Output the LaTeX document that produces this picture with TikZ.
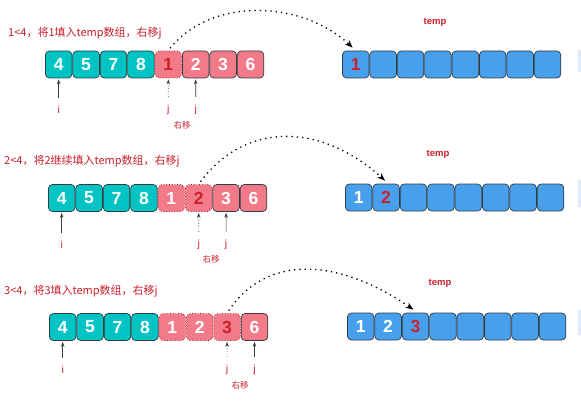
\documentclass[tikz,border=0pt]{standalone}
\usepackage{fontspec}
\setmainfont{Liberation Sans}
\newfontfamily\cjk{Noto Sans CJK SC}
\usetikzlibrary{arrows.meta}
\definecolor{teal1}{RGB}{0,196,196}
\definecolor{pink1}{RGB}{243,122,136}
\definecolor{blue1}{RGB}{72,160,236}
\definecolor{red1}{RGB}{204,32,44}
\definecolor{edge1}{RGB}{50,60,65}
\definecolor{faint1}{RGB}{222,235,248}
\tikzset{
  cell/.style={draw=edge1, line width=0.7pt, rounded corners=4pt, minimum width=26.6pt,
    minimum height=27pt, inner sep=0pt, font=\fontsize{17.5}{17.5}\selectfont\bfseries, text=white},
  tcell/.style={cell, fill=teal1},
  pcell/.style={cell, fill=pink1},
  mcell/.style={cell, fill=pink1, draw=red1!70!black, dotted},
  mhl/.style={mcell, text=red1},
  bcell/.style={cell, fill=blue1},
  bhl/.style={bcell, text=red1},
  caption/.style={anchor=west, text=red1, font=\cjk\fontsize{11}{11}\selectfont, inner sep=0pt},
  templabel/.style={text=red1, font=\fontsize{9.5}{9.5}\selectfont\bfseries, inner sep=0pt},
  ptr/.style={text=red1, font=\fontsize{10.5}{10.5}\selectfont, inner sep=0pt},
  movelbl/.style={text=red1, font=\cjk\fontsize{8.5}{8.5}\selectfont, inner sep=0pt},
  ptrarrow/.style={-{Stealth[length=5pt,width=3.5pt]}, draw=edge1, line width=0.7pt,
    shorten <=8pt, shorten >=1pt},
  ptrdot/.style={ptrarrow, dotted},
  jump/.style={-{Stealth[length=8pt,width=6pt]}, line width=1.3pt,
    dash pattern=on 1.3pt off 4pt, black, shorten <=3pt}
}
\begin{document}
\begin{tikzpicture}[x=1pt,y=-1pt]
\useasboundingbox (0,0) rectangle (581,401);
\fill[white] (0,0) rectangle (581,401);

% ---------------- Row 1 ----------------
\node[caption] (c1) at (8,33) {1<4，将1填入temp数组，右移j};
\foreach \v/\s [count=\k from 0] in {4/tcell,5/tcell,7/tcell,8/tcell,1/mhl,2/pcell,3/pcell,6/pcell}
  \node[\s] (r1a\k) at (45+13.7+27.4*\k, 64.5) {\v};
\foreach \v/\s [count=\k from 0] in {1/bhl,/bcell,/bcell,/bcell,/bcell,/bcell,/bcell,/bcell}
  \node[\s] (r1t\k) at (342+13.7+27.4*\k, 64.5) {\v};
\node[templabel] (tl1) at (435,22) {temp};
\node[ptr] (r1i) at (58.7,110) {i};
\node[ptr] (r1j1) at (168.3,110) {j};
\node[ptr] (r1j2) at (195.7,110) {j};
\node[movelbl] (r1m) at (182,125) {右移};
\draw[ptrarrow] (r1i.north) -- (r1a0.south);
\draw[ptrdot] (r1j1.north) -- (r1a4.south);
\draw[ptrarrow] (r1j2.north) -- (r1a5.south);
\draw[jump] (r1a4.north) .. controls (210,-2) and (300,-1) .. ([xshift=-3pt,yshift=3pt]r1t0.north);

% ---------------- Row 2 ----------------
\node[caption] (c2) at (4,161) {2<4，将2继续填入temp数组，右移j};
\foreach \v/\s [count=\k from 0] in {4/tcell,5/tcell,7/tcell,8/tcell,1/mcell,2/mhl,3/pcell,6/pcell}
  \node[\s] (r2a\k) at (48+13.7+27.4*\k, 198) {\v};
\foreach \v/\s [count=\k from 0] in {1/bcell,2/bhl,/bcell,/bcell,/bcell,/bcell,/bcell,/bcell}
  \node[\s] (r2t\k) at (345+13.7+27.4*\k, 197.5) {\v};
\node[templabel] (tl2) at (438,154) {temp};
\node[ptr] (r2i) at (61.7,245) {i};
\node[ptr] (r2j1) at (198.7,245) {j};
\node[ptr] (r2j2) at (226.1,245) {j};
\node[movelbl] (r2m) at (211,259) {右移};
\draw[ptrarrow] (r2i.north) -- (r2a0.south);
\draw[ptrdot] (r2j1.north) -- (r2a5.south);
\draw[ptrarrow] (r2j2.north) -- (r2a6.south);
\draw[jump] (r2a5.north) .. controls (245,122) and (320,122) .. ([xshift=-1pt,yshift=3pt]r2t1.north);

% ---------------- Row 3 ----------------
\node[caption] (c3) at (4,291) {3<4，将3填入temp数组，右移j};
\foreach \v/\s [count=\k from 0] in {4/tcell,5/tcell,7/tcell,8/tcell,1/mcell,2/mcell,3/mhl,6/pcell}
  \node[\s] (r3a\k) at (49+13.7+27.4*\k, 327) {\v};
\foreach \v/\s [count=\k from 0] in {1/bcell,2/bcell,3/bhl,/bcell,/bcell,/bcell,/bcell,/bcell}
  \node[\s] (r3t\k) at (347+13.7+27.4*\k, 326.5) {\v};
\node[templabel] (tl3) at (440,283) {temp};
\node[ptr] (r3i) at (62.7,370) {i};
\node[ptr] (r3j1) at (227.1,370) {j};
\node[ptr] (r3j2) at (254.5,370) {j};
\node[movelbl] (r3m) at (240,385) {右移};
\draw[ptrarrow] (r3i.north) -- (r3a0.south);
\draw[ptrdot] (r3j1.north) -- (r3a6.south);
\draw[ptrarrow] (r3j2.north) -- (r3a7.south);
\draw[jump] (r3a6.north) .. controls (265,256) and (335,256) .. ([xshift=-2pt,yshift=3pt]r3t2.north);

% faint slivers at the right edge
\fill[faint1] (578,50) rectangle (581,72);
\fill[faint1] (578,180) rectangle (581,207);
\fill[faint1] (578,310) rectangle (581,335);
\end{tikzpicture}
\end{document}
